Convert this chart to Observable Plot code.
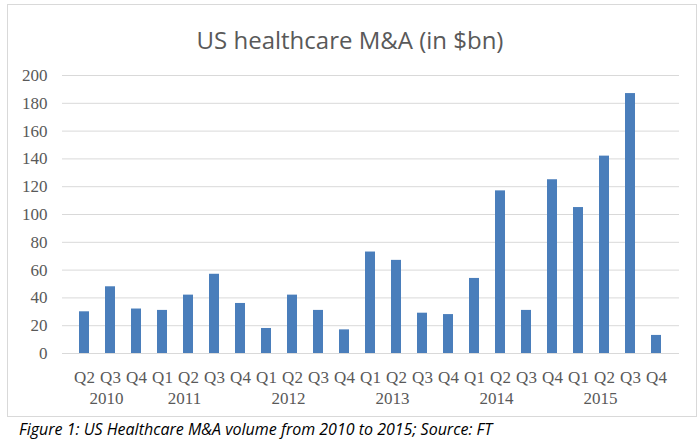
<!DOCTYPE html>
<html>
<head>
<meta charset="utf-8">
<script src="https://cdn.jsdelivr.net/npm/d3@7"></script>
<script src="https://cdn.jsdelivr.net/npm/@observablehq/plot@0.6"></script>
<style>
  html, body { margin: 0; padding: 0; background: #fff; }
  #wrap { position: relative; width: 700px; height: 441px; overflow: hidden; }
  #frame { position: absolute; left: 7px; top: 4px; width: 690px; height: 413px; border: 1px solid #d9d9d9; box-sizing: border-box; }
  #title { position: absolute; left: 0; top: 23px; width: 700px; text-align: center;
           font-family: "Open Sans", sans-serif; font-size: 24px; color: #595959; line-height: normal; }
  #chart { position: absolute; left: 0; top: 60px; }
  #caption { position: absolute; left: 19px; top: 418px; font-family: "Open Sans", sans-serif;
             font-style: italic; font-size: 16px; color: #000; line-height: normal; white-space: nowrap; }
</style>
</head>
<body>
<div id="wrap">
  <div id="frame"></div>
  <div id="title"></div>
  <div id="chart"></div>
  <div id="caption"></div>
</div>
<script>
const titleText = "US healthcare M&A (in $bn)";
const captionText = "Figure 1: US Healthcare M&A volume from 2010 to 2015; Source: FT";

const years    = [2010, 2010, 2010, 2011, 2011, 2011, 2011, 2012, 2012, 2012, 2012,
                  2013, 2013, 2013, 2013, 2014, 2014, 2014, 2014, 2015, 2015, 2015, 2015];
const quarters = ["Q2", "Q3", "Q4", "Q1", "Q2", "Q3", "Q4", "Q1", "Q2", "Q3", "Q4",
                  "Q1", "Q2", "Q3", "Q4", "Q1", "Q2", "Q3", "Q4", "Q1", "Q2", "Q3", "Q4"];
const values   = [30, 48, 32, 31, 42, 57, 36, 18, 42, 31, 17,
                  73, 67, 29, 28, 54, 117, 31, 125, 105, 142, 187, 13];
const yTicks   = [0, 20, 40, 60, 80, 100, 120, 140, 160, 180, 200];

const data = values.map((v, i) => ({key: years[i] + " " + quarters[i], year: years[i], quarter: quarters[i], value: v}));
const keys = data.map(d => d.key);
const quarterOf = new Map(data.map(d => [d.key, d.quarter]));

// one label per year, anchored at the middle quarter of that year's group
const yearGroups = d3.groups(data, d => d.year);
const yearLabels = yearGroups.map(([y, rows]) => ({year: String(y), key: rows[Math.floor((rows.length - 1) / 2)].key}));

document.getElementById("title").textContent = titleText;
document.getElementById("caption").textContent = captionText;

const chart = Plot.plot({
  width: 700,
  height: 355,
  marginTop: 15,
  marginBottom: 62,
  marginLeft: 62,
  marginRight: 21,
  style: {fontFamily: "'Liberation Serif', serif", fontSize: "17px", color: "#595959", background: "transparent", overflow: "visible"},
  x: {type: "band", domain: keys, paddingInner: 0.6, paddingOuter: 0.3, label: null},
  y: {domain: [0, 200], label: null},
  marks: [
    Plot.gridY(yTicks, {stroke: "#d9d9d9", strokeOpacity: 1, strokeWidth: 1}),
    Plot.barY(data, {x: "key", y: "value", fill: "#4a7ebb"}),
    Plot.axisY(yTicks, {tickSize: 0, tickPadding: 15, label: null, fill: "#595959", fontSize: 17}),
    Plot.axisX({tickSize: 0, tickPadding: 17, label: null, tickFormat: k => quarterOf.get(k), fill: "#595959", fontSize: 17}),
    Plot.text(yearLabels, {x: "key", text: "year", frameAnchor: "bottom", dy: 50, dx: -4, fill: "#595959", fontSize: 17})
  ]
});
document.getElementById("chart").appendChild(chart);
</script>
</body>
</html>
